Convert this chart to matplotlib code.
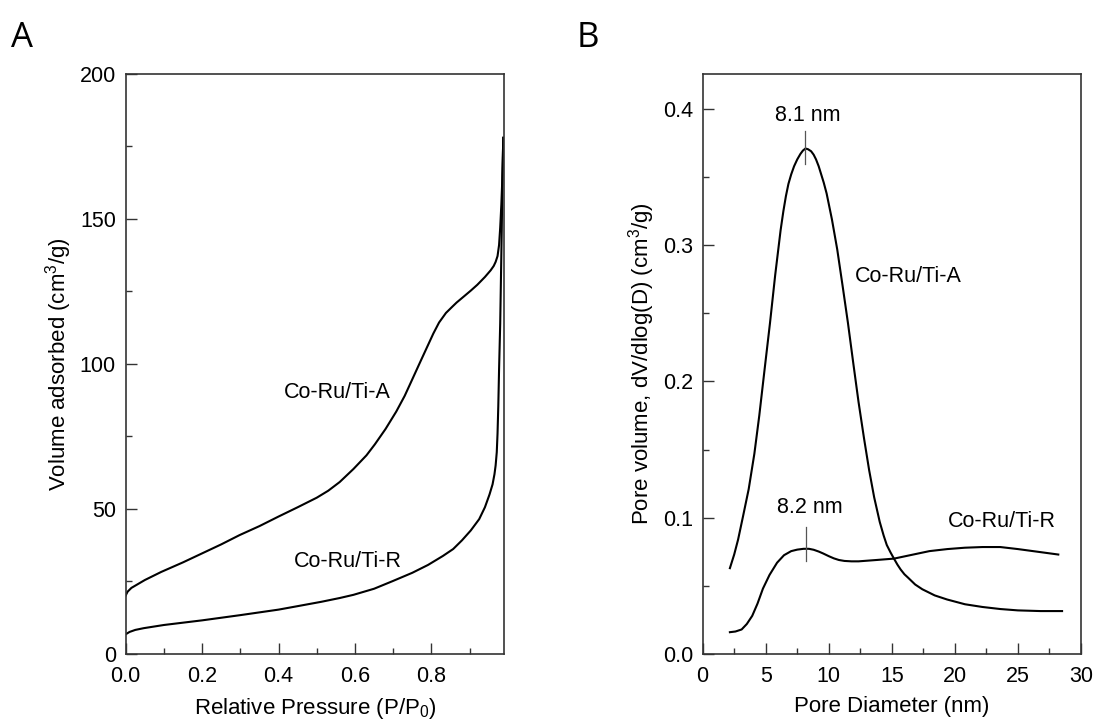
"""
N2 physisorption of the Co-Ru/Ti catalysts:
(A) adsorption isotherms, (B) BJH pore size distributions.
"""
import matplotlib
matplotlib.use("Agg")
import matplotlib.pyplot as plt
from matplotlib.ticker import MultipleLocator, FormatStrFormatter

plt.rcParams["font.family"] = ["Liberation Sans", "DejaVu Sans"]
plt.rcParams["mathtext.fontset"] = "custom"
plt.rcParams["mathtext.rm"] = "Liberation Sans"
plt.rcParams["mathtext.it"] = "Liberation Sans"

# ---------------------------------------------------------------------------
# Data
# ---------------------------------------------------------------------------
# (A) isotherms: relative pressure vs volume adsorbed (cm3/g)
p_a = [0.0, 0.005, 0.015, 0.028, 0.05, 0.093, 0.15, 0.2, 0.25, 0.298, 0.35, 0.4,
       0.45, 0.5, 0.53, 0.56, 0.596, 0.63, 0.652, 0.68, 0.708, 0.73, 0.745,
       0.77, 0.791, 0.805, 0.82, 0.838, 0.855, 0.866, 0.885, 0.903, 0.92,
       0.94, 0.955, 0.963, 0.968, 0.973, 0.977, 0.98, 0.983, 0.985, 0.987,
       0.988]
v_a = [20.2, 21.5, 22.8, 23.8, 25.5, 28.3, 31.6, 34.7, 37.8, 41.0, 44.1, 47.4,
       50.6, 53.9, 56.3, 59.3, 63.8, 68.5, 72.3, 77.6, 83.6, 89.0, 93.3,
       100.5, 106.5, 110.5, 114.3, 117.6, 119.8, 121.2, 123.3, 125.3, 127.3,
       130.0, 132.3, 133.8, 135.2, 137.2, 141.0, 147.0, 155.0, 162.0, 172.0,
       178.0]

p_r = [0.0, 0.01, 0.025, 0.047, 0.1, 0.15, 0.2, 0.3, 0.4, 0.45, 0.512, 0.56,
       0.596, 0.65, 0.698, 0.75, 0.791, 0.83, 0.857, 0.88, 0.903, 0.925, 0.94,
       0.952, 0.96, 0.965, 0.968, 0.971, 0.973, 0.975, 0.977, 0.98, 0.982,
       0.984, 0.986, 0.988]
v_r = [6.8, 7.6, 8.3, 8.9, 10.0, 10.8, 11.6, 13.4, 15.3, 16.5, 18.0, 19.3,
       20.4, 22.5, 25.1, 28.0, 30.7, 33.8, 36.2, 39.2, 42.6, 46.5, 50.6,
       55.0, 58.5, 62.0, 65.0, 69.6, 76.0, 85.5, 98.0, 114.0, 130.0, 146.0,
       165.0, 178.0]

# (B) pore size distributions: pore diameter (nm) vs dV/dlog(D) (cm3/g)
d_a = [2.16, 2.5, 2.81, 3.2, 3.65, 4.1, 4.49, 4.9, 5.34, 5.75, 6.18, 6.4,
       6.6, 6.8, 7.02, 7.25, 7.5, 7.75, 7.95, 8.15, 8.35, 8.6, 8.8, 8.99,
       9.2, 9.4, 9.6, 9.83, 10.25, 10.67, 11.1, 11.52, 11.95, 12.36, 12.8,
       13.2, 13.6, 14.04, 14.35, 14.6, 14.9, 15.17, 15.45, 15.7, 16.0,
       16.29, 16.85, 17.42, 18.4, 19.38, 20.8, 22.19, 23.6, 25.0, 26.8,
       28.5]
v_pa = [0.063, 0.073, 0.084, 0.101, 0.121, 0.147, 0.175, 0.208, 0.243,
        0.278, 0.311, 0.325, 0.336, 0.345, 0.352, 0.358, 0.363, 0.367,
        0.3695, 0.371, 0.3705, 0.369, 0.3665, 0.363, 0.358, 0.352, 0.346,
        0.338, 0.319, 0.297, 0.270, 0.243, 0.213, 0.185, 0.158, 0.135,
        0.115, 0.097, 0.087, 0.080, 0.0745, 0.070, 0.0655, 0.062, 0.0585,
        0.056, 0.051, 0.0475, 0.043, 0.040, 0.0365, 0.0345, 0.033, 0.032,
        0.0315, 0.0315]

d_r = [2.16, 2.6, 3.09, 3.5, 3.93, 4.35, 4.78, 5.3, 5.9, 6.45, 7.02, 7.5,
       8.0, 8.43, 8.8, 9.2, 9.55, 10.0, 10.4, 10.8, 11.24, 11.8, 12.36,
       13.8, 15.17, 16.6, 17.98, 19.4, 20.79, 22.19, 23.6, 25.0, 26.6, 28.2]
v_pr = [0.016, 0.0165, 0.018, 0.022, 0.028, 0.037, 0.048, 0.058, 0.067,
        0.0725, 0.0755, 0.0766, 0.0772, 0.0772, 0.0765, 0.0752, 0.0738,
        0.0718, 0.0702, 0.069, 0.0683, 0.068, 0.068, 0.069, 0.070, 0.0728,
        0.0755, 0.077, 0.078, 0.0785, 0.0785, 0.077, 0.075, 0.073]

# peak positions marked on panel B
peak_a = (8.1, 0.371)
peak_r = (8.2, 0.077)

# ---------------------------------------------------------------------------
# Plot
# ---------------------------------------------------------------------------
fig = plt.figure(figsize=(10.95, 7.24), dpi=100)
ax1 = fig.add_axes([0.1148, 0.0967, 0.3455, 0.8011])
ax2 = fig.add_axes([0.6417, 0.0967, 0.3455, 0.8011])

LW = 1.5
TICK_FS = 15.5
LABEL_FS = 16
TEXT_FS = 15.5

for ax in (ax1, ax2):
    for s in ax.spines.values():
        s.set_linewidth(1.2)
        s.set_color("#333333")
    ax.tick_params(which="both", direction="in", top=False, right=False,
                   labelsize=TICK_FS, color="#333333", width=1.0)
    ax.tick_params(axis="x", which="both", pad=9)
    ax.tick_params(axis="y", which="both", pad=7)
    ax.tick_params(which="major", length=8)
    ax.tick_params(which="minor", length=4.5)

# (A) isotherms
ax1.plot(p_a, v_a, color="black", lw=LW)
ax1.plot(p_r, v_r, color="black", lw=LW)
ax1.set_xlim(0, 0.99)
ax1.set_ylim(0, 200)
ax1.xaxis.set_major_locator(MultipleLocator(0.2))
ax1.xaxis.set_minor_locator(MultipleLocator(0.1))
ax1.yaxis.set_major_locator(MultipleLocator(50))
ax1.yaxis.set_minor_locator(MultipleLocator(25))
ax1.xaxis.set_major_formatter(FormatStrFormatter("%.1f"))
ax1.set_xlabel("Relative Pressure (P/P$_0$)", fontsize=LABEL_FS, labelpad=6)
ax1.set_ylabel("Volume adsorbed (cm$^3$/g)", fontsize=LABEL_FS, labelpad=4)
ax1.text(0.554, 90.3, "Co-Ru/Ti-A", fontsize=TEXT_FS, ha="center", va="center")
ax1.text(0.582, 31.8, "Co-Ru/Ti-R", fontsize=TEXT_FS, ha="center", va="center")

# (B) pore size distributions
ax2.plot(d_a, v_pa, color="black", lw=LW)
ax2.plot(d_r, v_pr, color="black", lw=LW)
ax2.set_xlim(0, 30)
ax2.set_ylim(0, 0.4257)
ax2.xaxis.set_major_locator(MultipleLocator(5))
ax2.xaxis.set_minor_locator(MultipleLocator(2.5))
ax2.yaxis.set_major_locator(MultipleLocator(0.1))
ax2.yaxis.set_minor_locator(MultipleLocator(0.05))
ax2.yaxis.set_major_formatter(FormatStrFormatter("%.1f"))
ax2.set_xlabel("Pore Diameter (nm)", fontsize=LABEL_FS, labelpad=6)
ax2.set_ylabel("Pore volume, dV/dlog(D) (cm$^3$/g)", fontsize=LABEL_FS,
               labelpad=4)

# peak markers
ax2.plot([peak_a[0], peak_a[0]], [peak_a[1] - 0.011, peak_a[1] + 0.0125],
         color="#555555", lw=0.9)
ax2.text(peak_a[0] + 0.2, 0.395, f"{peak_a[0]} nm", fontsize=TEXT_FS,
         ha="center", va="center")
ax2.plot([peak_r[0], peak_r[0]], [peak_r[1] - 0.0085, peak_r[1] + 0.016],
         color="#555555", lw=0.9)
ax2.text(peak_r[0] + 0.3, 0.1076, f"{peak_r[0]} nm", fontsize=TEXT_FS,
         ha="center", va="center")
ax2.text(16.3, 0.277, "Co-Ru/Ti-A", fontsize=TEXT_FS, ha="center", va="center")
ax2.text(23.7, 0.0975, "Co-Ru/Ti-R", fontsize=TEXT_FS, ha="center",
         va="center")

# panel letters
fig.text(0.010, 0.935, "A", fontsize=25, family=["Open Sans", "DejaVu Sans"])
fig.text(0.527, 0.935, "B", fontsize=25, family=["Open Sans", "DejaVu Sans"])

fig.savefig("out.png", dpi=100)
